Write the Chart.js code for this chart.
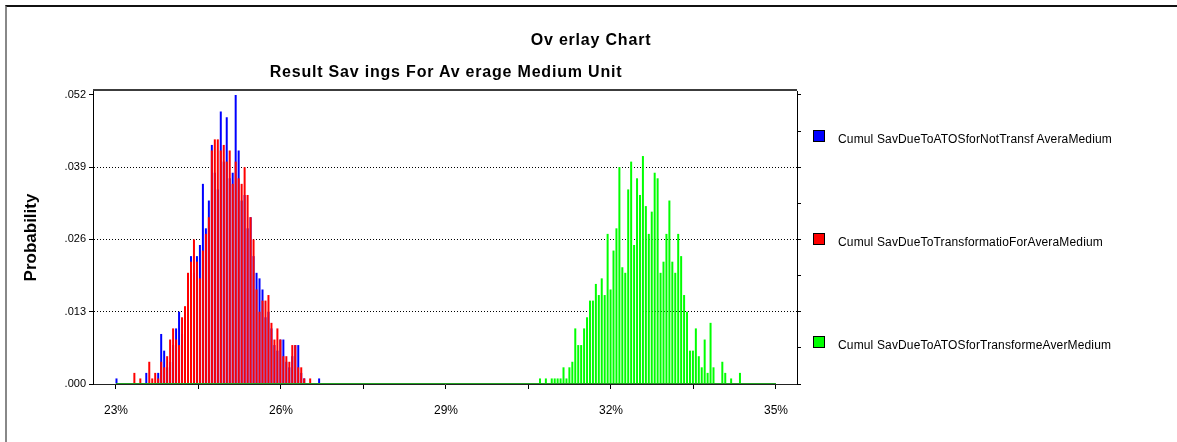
<!DOCTYPE html>
<html>
<head>
<meta charset="utf-8">
<script src="https://cdn.jsdelivr.net/npm/chart.js@4.4.0/dist/chart.umd.min.js"></script>
<style>
  body { margin: 0; background: #fff; font-family: "Liberation Sans", Arial, sans-serif; }
  #wrap { position: relative; width: 1177px; height: 442px; overflow: hidden; }
  #frame { position: absolute; left: 5px; top: 5px; width: 1200px; height: 500px; border-top: 2px solid #111; border-left: 2px solid #888; }
  canvas { position: absolute; left: 0; top: 0; }
  .title { position: absolute; font-weight: bold; font-size: 16px; line-height: 18px; letter-spacing: 0.8px; white-space: nowrap; transform: translateX(-50%); color: #000; }
  .legend-item { position: absolute; left: 813px; height: 14px; font-size: 12px; line-height: 14px; letter-spacing: 0.15px; white-space: nowrap; color: #000; }
  .legend-item span.sw { position: absolute; left: 0; top: 0; width: 10px; height: 10px; border: 1px solid #000; }
  .legend-item span.tx { position: absolute; left: 25px; top: 2px; }
</style>
</head>
<body>
<div id="wrap">
  <div id="frame"></div>
  <canvas id="chart" width="1177" height="442"></canvas>
  <div class="title" style="left:591px; top:31px;">Ov erlay Chart</div>
  <div class="title" style="left:446px; top:63px;">Result Sav ings For Av erage Medium Unit</div>
  <div id="legend"></div>
</div>
<script>
// histogram bins (x in %), probabilities in thousandths
const binStartRB = 23.009;
const binWidthRB = 0.05418;
const binStartG = 30.709;
const binWidthG = 0.05347;

const notTransfPermille = [1,0,0,0,0,0,0,0,0,0, 2,0,0,0,2,9,6,3,4,7, 10,13,9,11,15,23,20,23,25,36,
  28,33,43,38,35,49,40,48,37,38, 52,42,33,34,28,30,23,20,19,17, 12,13,10,7,6,8,8,4,3,5, 7,7,2,1,0,0,0,0,1];
const transformatioPermille = [0,0,0,0,0,0,2,0,1,0, 0,4,1,2,1,4,3,5,8,10, 8,7,12,14,20,22,26,22,19,24,
  27,30,42,44,44,42,43,40,42,36, 40,37,36,39,34,30,26,17,13,15, 15,16,11,8,10,8,5,5,4,7, 7,3,3,1,0,1,0,0,0];
const transformePermille = [1,0,1,0,1,1,1,1,3,1, 3,4,10,7,7,10,12,15,15,18, 16,19,16,27,17,24,28,39,21,20,
  35,40,25,37,34,41,32,27,31,38, 37,20,22,27,33,22,20,27,23,16, 13,6,6,10,5,3,8,2,11,3, 0,0,4,2,0,1,0,0,2];

const seriesNames = [
  'Cumul SavDueToATOSforNotTransf AveraMedium',
  'Cumul SavDueToTransformatioForAveraMedium',
  'Cumul SavDueToATOSforTransformeAverMedium'
];
const seriesColors = ['#0000ff', '#ff0000', '#00ff00'];

const xTicks = [23, 24.5, 26, 27.5, 29, 30.5, 32, 33.5, 35];
const xLabels = ['23%', '', '26%', '', '29%', '', '32%', '', '35%'];
const yTicks = [0, 0.013, 0.026, 0.039, 0.052];
const rightTicks = [0, 0.0065, 0.013, 0.0195, 0.026, 0.0325, 0.039, 0.0455, 0.052];
const xRange = [22.582, 35.382];
const baseRange = [23, 35];

function toPoints(start, width, vals) {
  return vals.map((v, i) => ({ x: start + i * width, y: v / 1000 }));
}

// legend on the right
const legendTops = [130, 233, 336];
const legend = document.getElementById('legend');
seriesNames.forEach((name, i) => {
  const item = document.createElement('div');
  item.className = 'legend-item';
  item.style.top = legendTops[i] + 'px';
  item.innerHTML = `<span class="sw" style="background:${seriesColors[i]}"></span><span class="tx">${name}</span>`;
  legend.appendChild(item);
});

Chart.defaults.font.family = '"Liberation Sans", Arial, sans-serif';
Chart.defaults.color = '#000';

// dark frame line along the top of the plot area
const topFrame = {
  id: 'topFrame',
  afterDraw(chart) {
    const { ctx, chartArea } = chart;
    ctx.save();
    ctx.strokeStyle = '#3c3c3c';
    ctx.lineWidth = 2;
    ctx.beginPath();
    ctx.moveTo(chartArea.left, chartArea.top - 1);
    ctx.lineTo(chartArea.right, chartArea.top - 1);
    ctx.stroke();
    ctx.restore();
  }
};

const barCommon = { type: 'bar', barThickness: 2, grouped: false, borderWidth: 0, inflateAmount: 0 };

new Chart(document.getElementById('chart'), {
  data: {
    datasets: [
      {
        type: 'line',
        data: baseRange.map(x => ({ x: x, y: 0 })),
        borderColor: '#22a022',
        borderWidth: 2,
        pointRadius: 0,
        order: 0
      },
      Object.assign({ label: seriesNames[1], data: toPoints(binStartRB, binWidthRB, transformatioPermille), backgroundColor: seriesColors[1], order: 1 }, barCommon),
      Object.assign({ label: seriesNames[0], data: toPoints(binStartRB, binWidthRB, notTransfPermille), backgroundColor: seriesColors[0], order: 2 }, barCommon),
      Object.assign({ label: seriesNames[2], data: toPoints(binStartG, binWidthG, transformePermille), backgroundColor: seriesColors[2], order: 3 }, barCommon)
    ]
  },
  options: {
    responsive: false,
    animation: false,
    devicePixelRatio: 1,
    layout: { padding: { top: 91, left: 0, right: 372, bottom: 18 } },
    plugins: { legend: { display: false }, tooltip: { enabled: false } },
    scales: {
      x: {
        type: 'linear',
        offset: false,
        min: xRange[0],
        max: xRange[1],
        afterBuildTicks: s => { s.ticks = xTicks.map(v => ({ value: v })); },
        afterFit: s => { s.height = 40; },
        ticks: { autoSkip: false, maxRotation: 0, padding: 14, font: { size: 12 }, callback: (v, i) => xLabels[i] },
        grid: { offset: false, drawOnChartArea: false, tickLength: 5, tickColor: '#000' },
        border: { color: '#222', width: 1 }
      },
      y: {
        min: 0,
        max: 0.0527,
        afterBuildTicks: s => { s.ticks = yTicks.map(v => ({ value: v })); },
        afterFit: s => { s.width = 93; },
        ticks: { padding: 3, font: { size: 11 }, callback: v => v.toFixed(3).replace(/^0/, '') },
        grid: {
          color: c => (c.tick && c.tick.value > 0.001 && c.tick.value < 0.05) ? '#000' : 'rgba(0,0,0,0)',
          tickLength: 4,
          tickColor: '#000'
        },
        border: { color: '#000', width: 1, dash: [1, 2] },
        title: { display: true, text: 'Probability', font: { size: 17, weight: 'bold' }, padding: { top: 21, bottom: 0 } }
      },
      y2: {
        position: 'right',
        min: 0,
        max: 0.0527,
        afterBuildTicks: s => { s.ticks = rightTicks.map(v => ({ value: v })); },
        afterFit: s => { s.width = 8; },
        ticks: { display: false },
        grid: { drawOnChartArea: false, tickLength: 4, tickColor: '#000' },
        border: { color: '#000', width: 1 }
      }
    }
  },
  plugins: [topFrame]
});
</script>
</body>
</html>
